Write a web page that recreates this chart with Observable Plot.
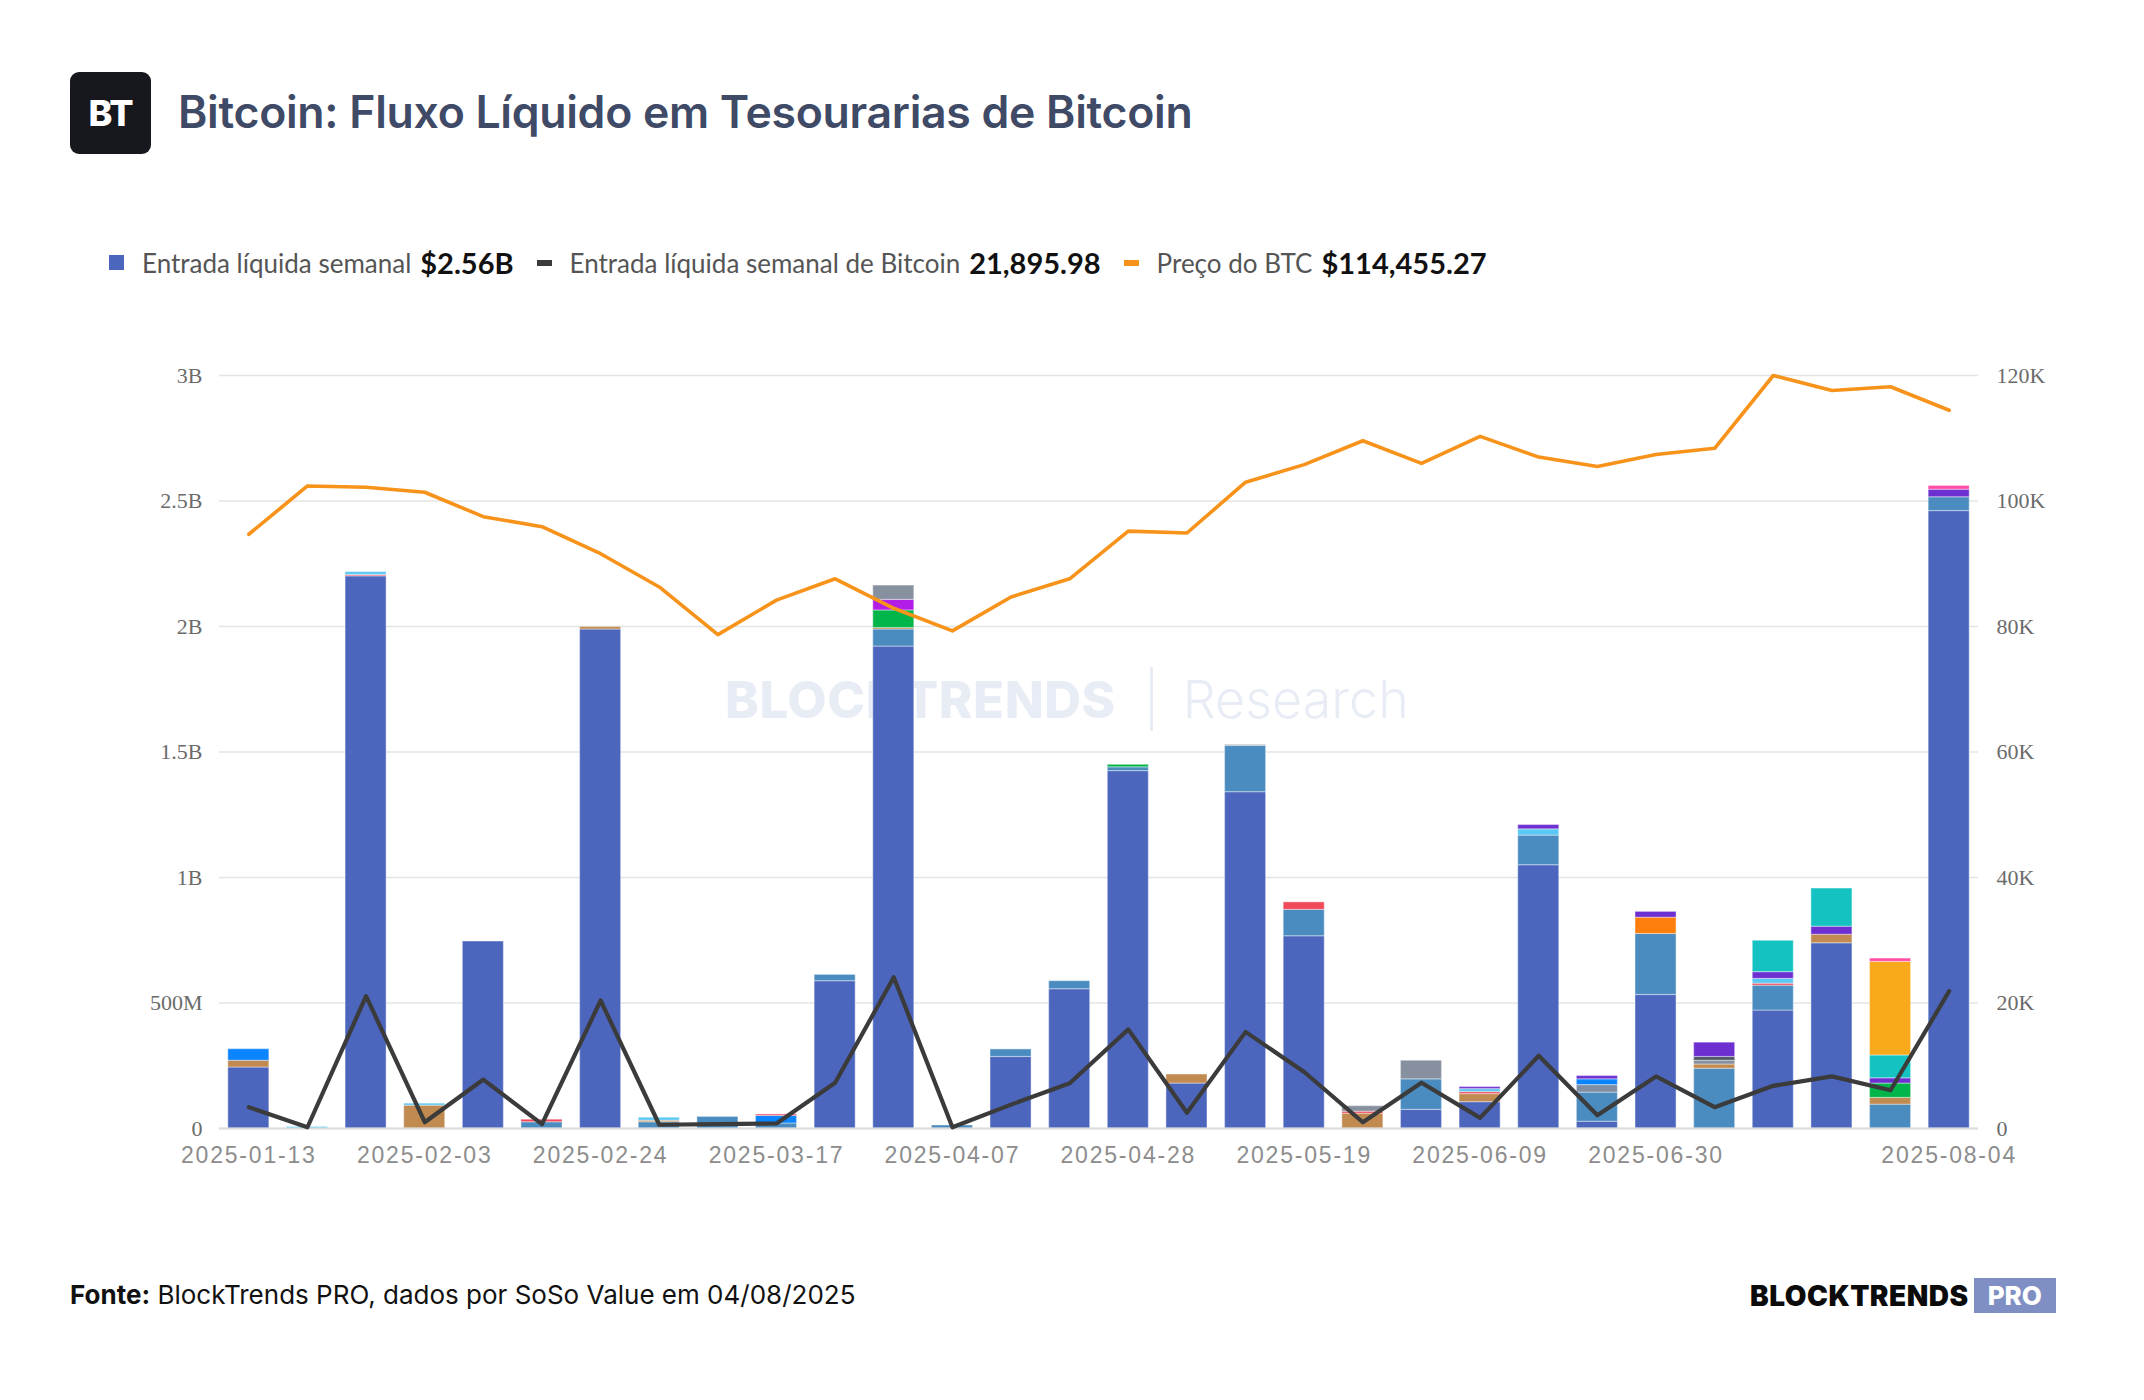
<!DOCTYPE html>
<html lang="pt">
<head>
<meta charset="utf-8">
<script src="https://cdn.jsdelivr.net/npm/d3@7"></script>
<script src="https://cdn.jsdelivr.net/npm/@observablehq/plot@0.6"></script>
<style>
  html, body { margin: 0; padding: 0; background: #fff; }
  body { width: 2144px; height: 1400px; position: relative; overflow: hidden; font-family: Inter, "Noto Sans", sans-serif; }
  #logo { position: absolute; left: 70px; top: 72px; width: 81px; height: 82px; border-radius: 9px; background: #16181d;
          color: #fff; font: 800 36px Inter, sans-serif; display: flex; align-items: center; justify-content: center; letter-spacing: -1px; }
  #title { position: absolute; left: 178px; top: 85px; font: 600 44.6px Inter, sans-serif; color: #3f4a66; letter-spacing: -0.3px; white-space: nowrap; }
  #legend { position: absolute; left: 109px; top: 245px; display: flex; align-items: center; font-family: Lato, sans-serif; white-space: nowrap; }
  #legend .item { display: flex; align-items: center; margin-right: 23px; }
  #legend .sw { display: inline-block; margin-right: 18px; }
  #legend .lab { font-size: 26px; color: #555; margin-right: 9px; }
  #legend .val { font-size: 29px; font-weight: 700; color: #111; }
  #watermark { position: absolute; left: 725px; top: 667px; display: flex; align-items: center; color: #e8edf5; white-space: nowrap; }
  #watermark .b { font: 800 51px Inter, sans-serif; letter-spacing: 0.5px; }
  #watermark .sep { width: 3px; height: 64px; background: #e8edf5; margin: 0 30px 0 34px; }
  #watermark .r { font: 300 52px Inter, sans-serif; }
  #chart { position: absolute; left: 0; top: 330px; }
  #footer { position: absolute; left: 70px; top: 1279px; font: 400 26px Inter, sans-serif; color: #111; white-space: nowrap; }
  #footer b { font-weight: 700; }
  #brand { position: absolute; left: 1750px; top: 1278px; display: flex; align-items: center; white-space: nowrap; }
  #brand .t { font: 900 28px Inter, sans-serif; color: #0b0b0b; letter-spacing: 0.5px; }
  #brand .p { margin-left: 5px; background: #7f8fc4; color: #fff; font: 800 26px Inter, sans-serif; padding: 2px 14px; line-height: 31px; }
</style>
</head>
<body>
<div id="logo">BT</div>
<div id="title">Bitcoin: Fluxo Líquido em Tesourarias de Bitcoin</div>
<div id="legend"></div>
<div id="watermark"><span class="b">BLOCKTRENDS</span><span class="sep"></span><span class="r">Research</span></div>
<div id="chart"></div>
<div id="footer"><b>Fonte:</b> BlockTrends PRO, dados por SoSo Value em 04/08/2025</div>
<div id="brand"><span class="t">BLOCKTRENDS</span><span class="p">PRO</span></div>

<script>
// Weekly periods (week start)
const weeks = [
  "2025-01-13","2025-01-20","2025-01-27","2025-02-03","2025-02-10","2025-02-17","2025-02-24",
  "2025-03-03","2025-03-10","2025-03-17","2025-03-24","2025-03-31","2025-04-07","2025-04-14",
  "2025-04-21","2025-04-28","2025-05-05","2025-05-12","2025-05-19","2025-05-26","2025-06-02",
  "2025-06-09","2025-06-16","2025-06-23","2025-06-30","2025-07-07","2025-07-14","2025-07-21",
  "2025-07-28","2025-08-04"
];

// Weekly net inflow per treasury group, in millions of USD
const flowMain    = [243,0,2200,0,745,0,1988,0,0,0,587,1920,0,285,555,1424,179,1340,766,0,74,105,1049,27,532,0,470,738,0,2460];
const flowSteel   = [0,0,0,0,0,25,0,25,46,20,25,68,12,30,32,15,0,184,105,0,122,0,118,116,243,238,99,0,95,55];
const flowBrown   = [27,0,0,91,0,0,10,6,0,0,0,6,0,0,0,0,36,0,0,59,0,32,0,0,0,17,0,34,27,0];
const flowSlate   = [0,0,0,0,0,0,0,0,0,0,0,0,0,0,0,0,0,0,0,0,0,0,0,30,0,0,0,0,0,0];
const flowBlue    = [46,0,0,0,0,0,0,0,0,30,0,0,0,0,0,0,0,0,0,0,0,0,0,23,0,0,0,0,0,0];
const flowRed     = [0,0,5,0,0,10,0,0,0,6,0,0,0,0,0,0,0,0,30,8,0,8,0,0,0,0,8,0,0,0];
const flowCyan    = [0,6,12,8,0,0,0,12,0,0,0,0,0,0,0,0,0,0,0,0,0,12,25,0,0,0,19,0,0,0];
const flowGreen   = [0,0,0,0,0,0,0,0,0,0,0,70,0,0,0,10,0,0,0,0,0,0,0,0,0,0,0,0,57,0];
const flowMagenta = [0,0,0,0,0,0,0,0,0,0,0,42,0,0,0,0,0,0,0,0,0,0,0,0,0,0,0,0,0,0];
const flowGray    = [0,0,0,0,0,0,0,0,0,0,0,57,0,0,0,0,0,4,0,22,74,0,0,0,0,15,0,0,0,0];
const flowDark    = [0,0,0,0,0,0,0,0,0,0,0,0,0,0,0,0,0,0,0,0,0,0,0,0,0,15,0,0,0,0];
const flowOrange  = [0,0,0,0,0,0,0,0,0,0,0,0,0,0,0,0,0,0,0,0,0,0,0,0,65,0,0,0,0,0];
const flowPurple  = [0,0,0,0,0,0,0,0,0,0,0,0,0,0,0,0,0,0,0,0,0,8,17,13,23,57,27,32,21,30];
const flowTeal    = [0,0,0,0,0,0,0,0,0,0,0,0,0,0,0,0,0,0,0,0,0,0,0,0,0,0,125,152,91,0];
const flowAmber   = [0,0,0,0,0,0,0,0,0,0,0,0,0,0,0,0,0,0,0,0,0,0,0,0,0,0,0,0,373,0];
const flowPink    = [0,0,0,0,0,0,0,0,0,0,0,0,0,0,0,0,0,0,0,0,0,0,0,0,0,0,0,0,13,15];

// Weekly net inflow in BTC and BTC price in USD
const btcFlow  = [3400,200,21100,1000,7800,700,20400,600,700,800,7300,24100,200,3800,7200,15800,2500,15400,9000,1000,7300,1700,11600,2100,8300,3400,6800,8300,6100,21895.98];
const btcPrice = [94700,102400,102200,101400,97500,95900,91600,86300,78700,84200,87600,82900,79300,84700,87600,95200,94900,103000,105800,109600,106000,110300,107000,105500,107400,108400,120000,117600,118200,114455.27];

// Series stacking order (bottom to top) and colours
const groupNames  = ["main","steel","brown","slate","blue","red","cyan","green","magenta","gray","dark","orange","purple","teal","amber","pink"];
const groupColors = ["#4c66bd","#4a8cbf","#c08a50","#7f8ea3","#0a84ff","#f04a5a","#5bc8f5","#00b54a","#b31ee6","#87909e","#4f5965","#ff7f0e","#6e2fd0","#14c2c2","#f9aa1b","#ff4da6"];
const groupValues = [flowMain,flowSteel,flowBrown,flowSlate,flowBlue,flowRed,flowCyan,flowGreen,flowMagenta,flowGray,flowDark,flowOrange,flowPurple,flowTeal,flowAmber,flowPink];

// Axis ticks and labels
const yTicks      = [0,500,1000,1500,2000,2500,3000];
const leftLabels  = ["0","500M","1B","1.5B","2B","2.5B","3B"];
const rightLabels = ["0","20K","40K","60K","80K","100K","120K"];
const xTickWeeks  = ["2025-01-13","2025-02-03","2025-02-24","2025-03-17","2025-04-07","2025-04-28","2025-05-19","2025-06-09","2025-06-30","2025-08-04"];

// Right axis: 120K (BTC or USD) sits at the same height as 3B on the left axis
const rightPerLeft = 40;

const rows = [];
groupNames.forEach((g, k) => {
  groupValues[k].forEach((v, i) => { if (v > 0) rows.push({week: weeks[i], group: g, value: v}); });
});
const weekly = weeks.map((w, i) => ({week: w, btc: btcFlow[i], price: btcPrice[i]}));

// Legend
const last = weeks.length - 1;
const lastTotal = d3.sum(groupValues, a => a[last]);
const legendItems = [
  {sw: "width:15px;height:15px;background:#4c66bd", label: "Entrada líquida semanal", value: "$" + (lastTotal / 1000).toFixed(2) + "B"},
  {sw: "width:15px;height:6px;background:#3b3b3b", label: "Entrada líquida semanal de Bitcoin", value: d3.format(",.2f")(btcFlow[last])},
  {sw: "width:15px;height:6px;background:#f7931a", label: "Preço do BTC", value: "$" + d3.format(",.2f")(btcPrice[last])}
];
const legend = d3.select("#legend");
legendItems.forEach(it => {
  const item = legend.append("div").attr("class", "item");
  item.append("span").attr("class", "sw").attr("style", it.sw);
  item.append("span").attr("class", "lab").text(it.label);
  item.append("span").attr("class", "val").text(it.value);
});

const chart = Plot.plot({
  width: 2144,
  height: 850,
  marginTop: 45,
  marginBottom: 52,
  marginLeft: 219,
  marginRight: 166,
  style: {background: "transparent", overflow: "visible"},
  x: {type: "band", domain: weeks, paddingInner: 0.3, paddingOuter: 0.15, round: false, axis: null, label: null},
  y: {domain: [0, 3000], axis: null, label: null},
  color: {domain: groupNames, range: groupColors},
  marks: [
    Plot.gridY(yTicks, {stroke: "#e4e4e4", strokeOpacity: 1, strokeWidth: 1.6}),
    Plot.barY(rows, Plot.stackY({order: groupNames}, {
      x: "week", y: "value", z: "group", fill: "group",
      stroke: "#ffffff", strokeOpacity: 0.35, strokeWidth: 1.2
    })),
    Plot.ruleY([0], {stroke: "#dcdcdc", strokeWidth: 2}),
    Plot.line(weekly, {x: "week", y: d => d.price / rightPerLeft, stroke: "#f7931a", strokeWidth: 3.6, curve: "linear"}),
    Plot.line(weekly, {x: "week", y: d => d.btc / rightPerLeft, stroke: "#3b3b3b", strokeWidth: 4.2, curve: "linear"}),
    Plot.axisY(yTicks, {anchor: "left", label: null, tickSize: 0, tickPadding: 17, tickFormat: d => leftLabels[yTicks.indexOf(d)],
      fontSize: 22, fontFamily: "Liberation Serif, serif", color: "#6b6b6b"}),
    Plot.axisY(yTicks, {anchor: "right", label: null, tickSize: 0, tickPadding: 18, tickFormat: d => rightLabels[yTicks.indexOf(d)],
      fontSize: 22, fontFamily: "Liberation Serif, serif", color: "#6b6b6b"}),
    Plot.axisX(xTickWeeks, {anchor: "bottom", label: null, tickSize: 0, tickPadding: 18, fontSize: 23,
      fontFamily: "Liberation Sans, Arial, sans-serif", color: "#8c8c8c"})
  ]
});
document.getElementById("chart").appendChild(chart);
d3.select(chart).selectAll('g[aria-label="x-axis tick label"] text').style("letter-spacing", "1.8px");
</script>
</body>
</html>
